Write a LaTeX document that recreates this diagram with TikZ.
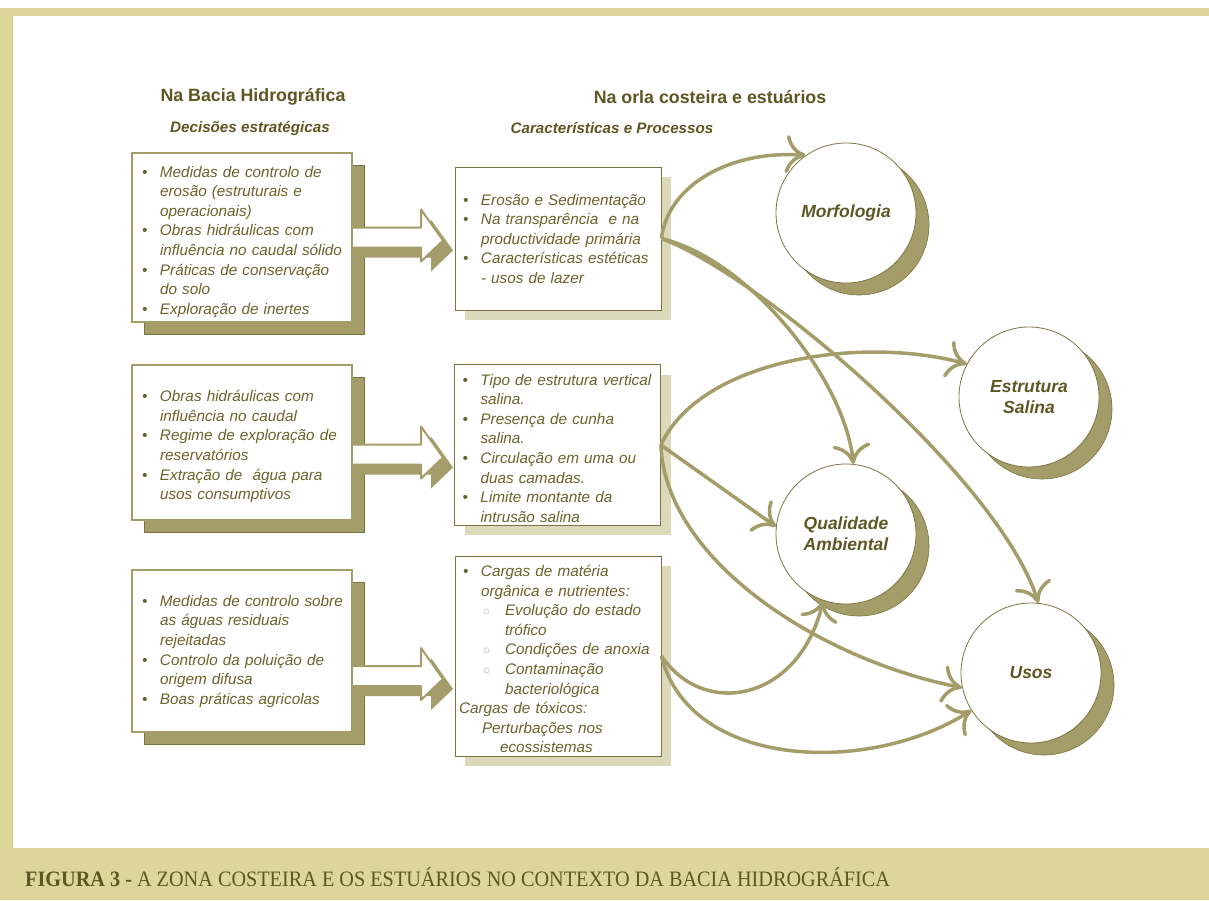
\documentclass[tikz,border=0pt]{standalone}
\usepackage{fontspec}
\setmainfont{Liberation Sans}
\newfontfamily\capfont[FakeStretch=0.92]{Liberation Serif}
\usetikzlibrary{arrows.meta,shadows}

\definecolor{frametan}{RGB}{222,213,154}
\definecolor{olivetext}{RGB}{92,88,36}
\definecolor{itemtext}{RGB}{104,100,44}
\definecolor{khaki}{RGB}{164,157,106}
\definecolor{khakidark}{RGB}{122,116,64}
\definecolor{shadowtan}{RGB}{220,216,186}

% list lines inside the boxes
\newcommand{\nl}{\hfil\break}
\newcommand{\bul}{\par\noindent\hangindent=22pt\hangafter=1\makebox[22pt][l]{\hspace{4pt}\textbullet}}
\newcommand{\subbul}{\par\noindent\hangindent=46pt\hangafter=1\hspace*{24pt}\makebox[22pt][l]{\color{gray!60}$\circ$}}

% 3D block arrow leaving a left box, #2 = shift of the shaft below the box centre
\newcommand{\blockarrow}[2]{%
  \begin{scope}[shift={(#1.east)}]
    \fill[khaki, shift={(10,10)}] (-10,{#2-10}) -- (68,{#2-10}) -- (68,{#2-28}) -- (90,{#2+3})
      -- (68,{#2+24}) -- (68,{#2+10}) -- (-10,{#2+10}) -- cycle;
    \fill[white] (0,{#2-10}) -- (68,{#2-10}) -- (68,{#2-28}) -- (90,{#2+3})
      -- (68,{#2+24}) -- (68,{#2+10}) -- (0,{#2+10}) -- cycle;
    \draw[khaki, line width=2pt, line join=round] (0,{#2-10}) -- (68,{#2-10}) -- (68,{#2-28})
      -- (90,{#2+3}) -- (68,{#2+24}) -- (68,{#2+10}) -- (0,{#2+10});
  \end{scope}}

\tikzset{
  itemtxt/.style={font=\fontsize{15.3}{19.6}\selectfont\itshape, text=itemtext},
  leftbox/.style={itemtxt, draw=khaki, line width=2pt, fill=white, text width=208pt,
    inner xsep=6pt, inner ysep=2pt, minimum height=#1,
    copy shadow={shadow xshift=12pt, shadow yshift=-12pt, fill=khaki, draw=khakidark, line width=0.6pt}},
  midbox/.style={itemtxt, draw=khakidark, line width=0.8pt, fill=white, text width=198pt,
    inner xsep=4pt, inner ysep=1pt, minimum height=#1,
    drop shadow={shadow xshift=10pt, shadow yshift=-10pt, fill=shadowtan, opacity=1}},
  topic/.style={circle, minimum size=140pt, draw=khakidark, line width=0.8pt, fill=white,
    text=olivetext, font=\fontsize{17.5}{21}\selectfont\bfseries\itshape, align=center,
    copy shadow={shadow xshift=13pt, shadow yshift=-12pt, fill=khaki, draw=khakidark, line width=0.6pt}},
  link/.style={draw=khaki, line width=3.5pt, -{To[length=20pt,width=38pt]}},
  colhead/.style={text=olivetext, font=\fontsize{17.8}{21}\selectfont\bfseries},
  colsub/.style={text=olivetext, font=\fontsize{15.2}{18}\selectfont\bfseries\itshape}
}

\begin{document}
\begin{tikzpicture}[x=1pt, y=-1pt]
\useasboundingbox (0,0) rectangle (1209,900);

% frame and caption band
\fill[frametan] (0,8) rectangle (1209,900);
\fill[white] (13,16) rectangle (1209,848);
\node[anchor=base west, inner sep=0pt, text=olivetext] (caption) at (25,886)
  {\capfont\fontsize{22}{25}\selectfont\textbf{FIGURA 3 -} A ZONA COSTEIRA E OS ESTUÁRIOS NO CONTEXTO DA BACIA HIDROGRÁFICA};

% column titles
\node[colhead] (hbacia) at (253,97) {Na Bacia Hidrográfica};
\node[colsub] (hdecis) at (250,128) {Decisões estratégicas};
\node[colhead] (horla) at (710,97) {Na orla costeira e estuários};
\node[colsub] (hcarac) at (612,128) {Características e Processos};

% left column: decisions
\node[leftbox=169pt] (lbox1) at (242,237.5) {%
  \bul Medidas de controlo de\nl erosão (estruturais e\nl operacionais)
  \bul Obras hidráulicas com\nl influência no caudal sólido
  \bul Práticas de conservação\nl do solo
  \bul Exploração de inertes\par};
\node[leftbox=155pt] (lbox2) at (242,442.5) {%
  \bul Obras hidráulicas com\nl influência no caudal
  \bul Regime de exploração de\nl reservatórios
  \bul Extração de \ água para\nl usos consumptivos\par};
\node[leftbox=162pt] (lbox3) at (242,651) {%
  \bul Medidas de controlo sobre\nl as águas residuais\nl rejeitadas
  \bul Controlo da poluição de\nl origem difusa
  \bul Boas práticas agricolas\par\vspace{8pt}};

\blockarrow{lbox1}{0}
\blockarrow{lbox2}{12}
\blockarrow{lbox3}{25}

% middle column: processes
\node[midbox=143pt] (mbox1) at (558,238.5) {%
  \bul Erosão e Sedimentação
  \bul Na transparência \ e na\nl productividade primária
  \bul Características estéticas\nl - usos de lazer\par\vspace{8pt}};
\node[midbox=160pt] (mbox2) at (557.5,445) {%
  \bul Tipo de estrutura vertical\nl salina.
  \bul Presença de cunha\nl salina.
  \bul Circulação em uma ou\nl duas camadas.
  \bul Limite montante da\nl intrusão salina\par\vspace{2pt}};
\node[midbox=198pt] (mbox3) at (558,656) {%
  \bul Cargas de matéria\nl orgânica e nutrientes:
  \subbul Evolução do estado\nl trófico
  \subbul Condições de anoxia
  \subbul Contaminação\nl bacteriológica
  \par\noindent Cargas de tóxicos:
  \par\noindent\hspace*{23pt}Perturbações nos\nl\hspace*{41pt}ecossistemas\par\vspace{2pt}};

% effects
\node[topic] (morf) at (846,213) {Morfologia};
\node[topic] (estr) at (1029,397) {Estrutura\\Salina};
\node[topic] (qual) at (846,534) {Qualidade\\Ambiental};
\node[topic] (usos) at (1031,673) {Usos};

% links
\draw[link] (mbox1.east) .. controls (668,185) and (730,150) .. (morf.125);
\draw[link] (mbox1.east) .. controls (750,260) and (845,380) .. (qual.84);
\draw[link] (mbox1.east) .. controls (760,275) and (1000,480) .. (usos.84);
\draw[link] (mbox2.east) .. controls (700,360) and (860,335) .. (estr.152);
\draw[link] (mbox2.east) -- (qual.174);
\draw[link] (mbox2.east) .. controls (665,560) and (820,660) .. (usos.192);
\draw[link] (mbox3.east) .. controls (705,720) and (800,700) .. (qual.251);
\draw[link] (mbox3.east) .. controls (690,770) and (870,775) .. (usos.212);

\end{tikzpicture}
\end{document}
